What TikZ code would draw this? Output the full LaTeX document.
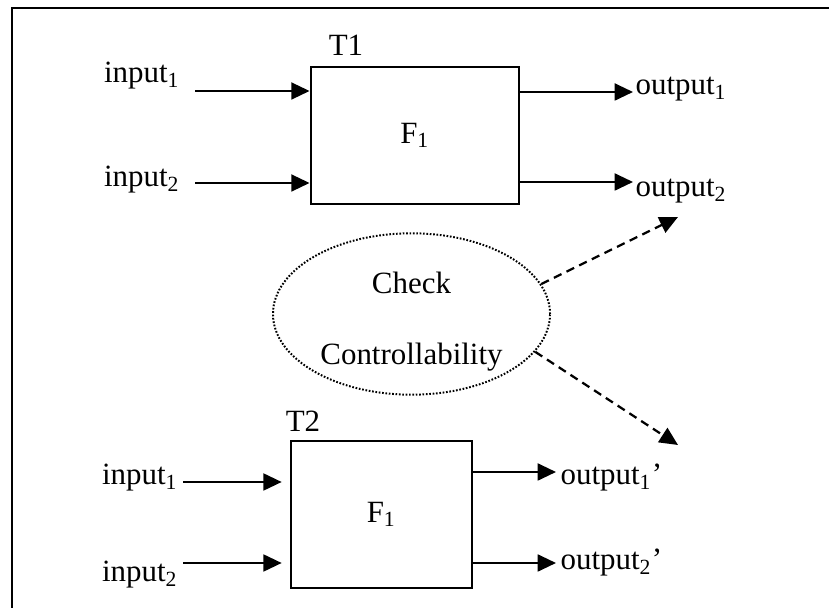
\documentclass[tikz,border=0pt]{standalone}
\usepackage{fontspec}
\setmainfont{Liberation Serif}
\usetikzlibrary{shapes, arrows.meta, calc}

\begin{document}
\begin{tikzpicture}[x=0.0125cm, y=-0.0125cm, font=\fontsize{11}{13}\selectfont,
  block/.style={draw, line width=1pt, inner sep=0pt},
  flow/.style={-{Triangle[length=6.5pt,width=6pt]}, line width=0.8pt},
  probe/.style={-{Triangle[length=6.5pt,width=6pt]}, line width=0.8pt, dash pattern=on 3pt off 2pt},
  lbl/.style={inner sep=0pt}]
  \useasboundingbox (0,0) rectangle (829,608);
  \draw[line width=1pt] (12,608) -- (12,8) -- (829,8);

  % first table T1
  \node[block, minimum width=2.6cm, minimum height=1.7125cm] (t1) at (415,135.5) {F\textsubscript{1}};
  \node[lbl, anchor=base] (t1name) at (346,56) {T1};
  \node[lbl, anchor=base] (t1in1) at (142,83) {input\textsubscript{1}};
  \node[lbl, anchor=base] (t1in2) at (142,187) {input\textsubscript{2}};
  \coordinate (t1a1) at (195,91);
  \coordinate (t1a2) at (195,183);
  \draw[flow] (t1a1) -- (t1a1 -| t1.west);
  \draw[flow] (t1a2) -- (t1a2 -| t1.west);
  \node[lbl, anchor=base west] (t1out1) at (635,95) {output\textsubscript{1}};
  \node[lbl, anchor=base west] (t1out2) at (635,197) {output\textsubscript{2}};
  \coordinate (t1b1) at (633,92);
  \coordinate (t1b2) at (633,182);
  \draw[flow] (t1b1 -| t1.east) -- (t1b1);
  \draw[flow] (t1b2 -| t1.east) -- (t1b2);

  % the check between both
  \node[ellipse, draw, line width=0.7pt, dash pattern=on 0.6pt off 0.6pt, inner sep=0pt,
        minimum width=3.4625cm, minimum height=1.95cm, align=center] (chk) at (411.5,314)
        {\rule{0pt}{13pt}Check\\[12.2pt]Controllability};
  \coordinate (tip1) at (678,217);
  \coordinate (tip2) at (678,445);
  \draw[probe] (chk.13) -- (tip1);
  \draw[probe] (chk.-17) -- (tip2);

  % second table T2
  \node[block, minimum width=2.2625cm, minimum height=1.8375cm] (t2) at (381.5,514.5) {F\textsubscript{1}};
  \node[lbl, anchor=base] (t2name) at (303,432) {T2};
  \node[lbl, anchor=base] (t2in1) at (140,485) {input\textsubscript{1}};
  \node[lbl, anchor=base] (t2in2) at (140,582) {input\textsubscript{2}};
  \coordinate (t2a1) at (183,482);
  \coordinate (t2a2) at (183,563);
  \draw[flow, shorten >=2.8pt] (t2a1) -- (t2a1 -| t2.west);
  \draw[flow, shorten >=2.8pt] (t2a2) -- (t2a2 -| t2.west);
  \node[lbl, anchor=base west] (t2out1) at (560,485) {output\textsubscript{1}’};
  \node[lbl, anchor=base west] (t2out2) at (560,570) {output\textsubscript{2}’};
  \coordinate (t2b1) at (556,472);
  \coordinate (t2b2) at (556,563);
  \draw[flow] (t2b1 -| t2.east) -- (t2b1);
  \draw[flow] (t2b2 -| t2.east) -- (t2b2);
\end{tikzpicture}
\end{document}
